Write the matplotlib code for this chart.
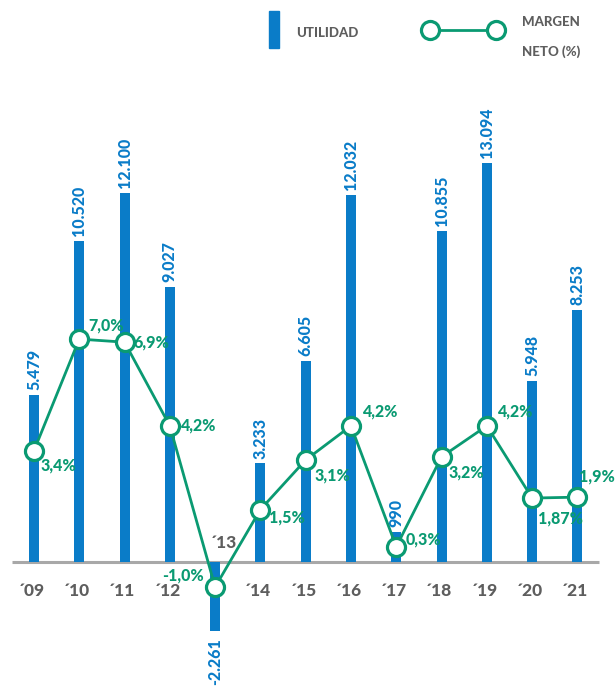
import matplotlib
matplotlib.use("Agg")
import matplotlib.pyplot as plt
from matplotlib.patches import Rectangle
from matplotlib.lines import Line2D

years = ["´09", "´10", "´11", "´12", "´13", "´14", "´15", "´16", "´17", "´18", "´19", "´20", "´21"]
utilidad = [5479, 10520, 12100, 9027, -2261, 3233, 6605, 12032, 990, 10855, 13094, 5948, 8253]
utilidad_labels = ["5.479", "10.520", "12.100", "9.027", "-2.261", "3.233", "6.605", "12.032", "990", "10.855", "13.094", "5.948", "8.253"]
margen = [3.4, 7.0, 6.9, 4.2, -1.0, 1.5, 3.1, 4.2, 0.3, 3.2, 4.2, 1.87, 1.9]
margen_labels = ["3,4%", "7,0%", "6,9%", "4,2%", "-1,0%", "1,5%", "3,1%", "4,2%", "0,3%", "3,2%", "4,2%", "1,87%", "1,9%"]

BLUE = "#0a7cc8"
GREEN = "#0a9a72"
GRAY = "#5e5e5e"
FAM = ["Lato", "Roboto", "DejaVu Sans"]
WT = "black"

W, H = 615, 689
fig = plt.figure(figsize=(W / 100, H / 100), dpi=100)
ax = fig.add_axes([0, 0, 1, 1])
ax.set_xlim(-0.75, 12.83)
ax.set_ylim(-4164, 18426)
ax.axis("off")

x = list(range(len(years)))
ax.bar(x, utilidad, width=0.22, color=BLUE, zorder=2)
ax.plot([-0.48, 12.48], [0, 0], color="#a8a8a8", lw=2.2, zorder=1, solid_capstyle="butt")

for i, (v, lab) in enumerate(zip(utilidad, utilidad_labels)):
    if v >= 0:
        ax.annotate(lab, (i, v), xytext=(0, 3.5), textcoords="offset points",
                    rotation=90, ha="center", va="bottom", color=BLUE,
                    fontsize=11.5, fontweight=WT, family=FAM)
    else:
        ax.annotate(lab, (i, v), xytext=(0, -5), textcoords="offset points",
                    rotation=90, ha="center", va="top", color=BLUE,
                    fontsize=11.5, fontweight=WT, family=FAM)

for i, (v, lab) in enumerate(zip(utilidad, years)):
    if v >= 0:
        ax.annotate(lab, (i, 0), xytext=(-2, -15), textcoords="offset points",
                    ha="center", va="top", color=GRAY, fontsize=12.5,
                    fontweight=WT, family=FAM)
    else:
        ax.annotate(lab, (i, 0), xytext=(6, 8), textcoords="offset points",
                    ha="center", va="bottom", color=GRAY, fontsize=12.5,
                    fontweight=WT, family=FAM)

ax2 = ax.twinx()
ax2.set_position([0, 0, 1, 1])
ax2.set_ylim(-4.29, 17.94)
ax2.axis("off")
ax2.plot(x, margen, color=GREEN, lw=2, marker="o", markersize=13,
         markerfacecolor="white", markeredgecolor=GREEN, markeredgewidth=2.3, zorder=5)

# label offsets (points) and horizontal alignment per point
offsets = [(4.5, -11, "left"), (6.5, 9.5, "left"), (6.5, 0, "left"),
           (7, 0, "left"), (-8, 8, "right"), (6.5, -6, "left"),
           (6, -11.5, "left"), (8, 10, "left"), (6.5, 5, "left"),
           (5, -11, "left"), (7, 10, "left"), (4.5, -14.5, "left"),
           (1, 15, "left")]
for i, (v, lab) in enumerate(zip(margen, margen_labels)):
    dx, dy, ha = offsets[i]
    ax2.annotate(lab, (i, v), xytext=(dx, dy), textcoords="offset points",
                 ha=ha, va="center", color=GREEN, fontsize=11.5, fontweight=WT,
                 family=FAM, zorder=6)

# legend drawn in figure pixel coordinates
def fx(px):
    return px / W

def fy(py):
    return 1 - py / H

fig.add_artist(Rectangle((fx(269), fy(48)), 10 / W, 37 / H, transform=fig.transFigure,
                         color=BLUE))
fig.text(fx(296), fy(33), "UTILIDAD", color=GRAY, fontsize=9.5, fontweight=WT,
         family=FAM, va="center", ha="left")
fig.add_artist(Line2D([fx(430), fx(496)], [fy(30), fy(30)], transform=fig.transFigure,
                      color=GREEN, lw=2, marker="o", markersize=13,
                      markerfacecolor="white", markeredgecolor=GREEN, markeredgewidth=2.3))
fig.text(fx(522), fy(22), "MARGEN", color=GRAY, fontsize=9.5, fontweight=WT,
         family=FAM, va="center", ha="left")
fig.text(fx(522), fy(52), "NETO (%)", color=GRAY, fontsize=9.5, fontweight=WT,
         family=FAM, va="center", ha="left")

fig.savefig("out.png", dpi=100)
